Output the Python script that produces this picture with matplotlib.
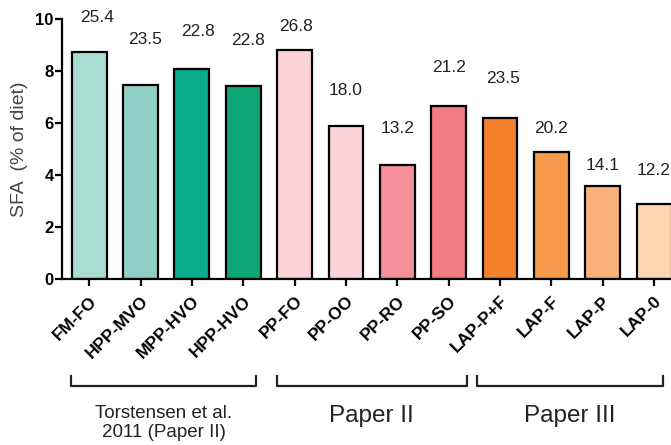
import matplotlib.pyplot as plt

plt.rcParams['font.family'] = ['Liberation Sans', 'DejaVu Sans']

diets = ["FM-FO", "HPP-MVO", "MPP-HVO", "HPP-HVO", "PP-FO", "PP-OO", "PP-RO",
         "PP-SO", "LAP-P+F", "LAP-F", "LAP-P", "LAP-0"]
sfa_diet = [8.72, 7.47, 8.07, 7.42, 8.81, 5.87, 4.39, 6.64, 6.18, 4.88, 3.57, 2.90]
sfa_total = ["25.4", "23.5", "22.8", "22.8", "26.8", "18.0", "13.2", "21.2",
             "23.5", "20.2", "14.1", "12.2"]
groups = ["Torstensen et al.\n2011 (Paper II)", "Paper II", "Paper III"]

colors = ["#abdcd2", "#8fcfc5", "#0aaa8c", "#0ea677", "#fdd3d8", "#fcd3d8",
          "#f48e98", "#f27a82", "#f4802c", "#f89a4c", "#fbb27a", "#fdd5b3"]
# how far each number sits above its bar, and sideways nudges
label_lift = [1.32, 1.72, 1.43, 1.74, 0.88, 1.37, 1.40, 1.48, 1.53, 0.91, 0.79, 1.29]
label_dx = [0.15, 0.09, 0.12, 0.10, 0.03, 0, 0, 0, 0.05, 0, 0, 0]

fig = plt.figure(figsize=(6.71, 4.45), dpi=100)
ax = fig.add_axes([0.0924, 0.372, 0.9076, 0.586])

x = list(range(len(diets)))
ax.bar(x, sfa_diet, width=0.68, color=colors, edgecolor="black", linewidth=1.6,
       zorder=2)

for i, v in enumerate(sfa_diet):
    ax.text(i + label_dx[i], v + label_lift[i], sfa_total[i], ha="center",
            va="center", fontsize=12.5, color="#222222", clip_on=False)

ax.set_xlim(-0.53, 11.33)
ax.set_ylim(0, 10)
ax.set_yticks([0, 2, 4, 6, 8, 10])
ax.set_ylabel("SFA  (% of diet)", fontsize=14, color="#444444", labelpad=5)

ax.set_xticks(x)
ax.set_xticklabels(diets, rotation=45, ha="right", va="top",
                   rotation_mode="anchor", fontsize=12.5, fontweight="bold")
for lab in ax.get_yticklabels():
    lab.set_fontweight("bold")
    lab.set_fontsize(12)

ax.tick_params(axis="both", direction="out", width=1.6, length=5, pad=1)
ax.tick_params(axis="x", pad=5)
for side in ["top", "right"]:
    ax.spines[side].set_visible(False)
for side in ["left", "bottom"]:
    ax.spines[side].set_linewidth(1.6)

# brackets under the diet names
trans = ax.get_xaxis_transform()
bracket_x = [(-0.35, 3.25), (3.65, 7.35), (7.55, 11.18)]
text_y = [-0.55, -0.523, -0.523]
for (x0, x1), name, size, ty in zip(bracket_x, groups, [13.5, 17.5, 17.5], text_y):
    ax.plot([x0, x0, x1, x1], [-0.37, -0.41, -0.41, -0.37], color="#222222",
            linewidth=1.6, transform=trans, clip_on=False)
    ax.text((x0 + x1) / 2, ty, name, ha="center", va="center",
            fontsize=size, color="#222222", transform=trans, linespacing=1.15)

fig.savefig("out.png", dpi=100)
